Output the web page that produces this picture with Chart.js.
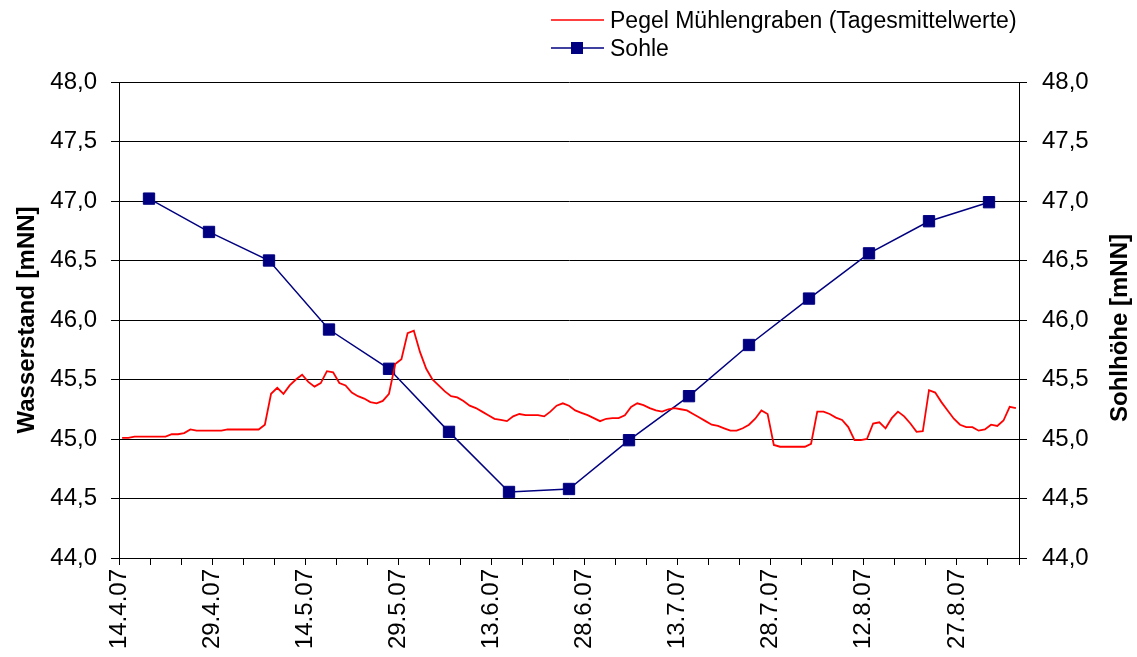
<!DOCTYPE html>
<html>
<head>
<meta charset="utf-8">
<script src="https://cdn.jsdelivr.net/npm/chart.js@4.4.0/dist/chart.umd.min.js"></script>
<style>
  html, body { margin: 0; padding: 0; background: #ffffff; }
  #wrap { width: 1137px; height: 657px; position: relative; }
</style>
</head>
<body>
<div id="wrap"><canvas id="c" width="1137" height="657"></canvas></div>
<script>
// ---- Data ----
const startDate = '14.4.07';
const tickLabels = ['14.4.07', '29.4.07', '14.5.07', '29.5.07', '13.6.07', '28.6.07', '13.7.07', '28.7.07', '12.8.07', '27.8.07'];
const pegelLabel = 'Pegel Mühlengraben (Tagesmittelwerte)';
const sohleLabel = 'Sohle';
// daily mean water level, one value per day starting 14.4.07
const pegelValues = [
  45.01, 45.01, 45.02, 45.02, 45.02, 45.02, 45.02, 45.02, 45.04, 45.04,
  45.05, 45.08, 45.07, 45.07, 45.07, 45.07, 45.07, 45.08, 45.08, 45.08,
  45.08, 45.08, 45.08, 45.12, 45.38, 45.43, 45.38, 45.45, 45.50, 45.54,
  45.48, 45.44, 45.47, 45.57, 45.56, 45.47, 45.45, 45.39, 45.36, 45.34,
  45.31, 45.30, 45.32, 45.38, 45.63, 45.67, 45.89, 45.91, 45.73, 45.59,
  45.50, 45.45, 45.40, 45.36, 45.35, 45.32, 45.28, 45.26, 45.23, 45.20,
  45.17, 45.16, 45.15, 45.19, 45.21, 45.20, 45.20, 45.20, 45.19, 45.23,
  45.28, 45.30, 45.28, 45.24, 45.22, 45.20, 45.175, 45.15, 45.17, 45.175,
  45.175, 45.20, 45.27, 45.30, 45.285, 45.26, 45.24, 45.23, 45.25, 45.26,
  45.25, 45.24, 45.21, 45.18, 45.15, 45.12, 45.11, 45.09, 45.07, 45.07,
  45.09, 45.12, 45.17, 45.24, 45.21, 44.95, 44.935, 44.935, 44.935, 44.935,
  44.935, 44.96, 45.23, 45.23, 45.21, 45.18, 45.16, 45.10, 44.99, 44.99,
  45.00, 45.13, 45.14, 45.09, 45.175, 45.23, 45.19, 45.13, 45.06, 45.065,
  45.41, 45.39, 45.31, 45.24, 45.17, 45.12, 45.10, 45.10, 45.07, 45.08,
  45.12, 45.11, 45.155, 45.27, 45.26
];
// bed level points (secondary category axis, 15 categories)
const sohleValues = [47.02, 46.74, 46.50, 45.92, 45.59, 45.06, 44.555, 44.58, 44.99, 45.36, 45.79, 46.18, 46.56, 46.83, 46.99];

const yMin = 44, yMax = 48, yStep = 0.5;
const daysShown = 145;   // axis length in days
const labelEvery = 15;   // a date label every 15 days
const tickEvery = 5;     // a tick mark every 5 days

const FONT = "'Liberation Sans', Arial, sans-serif";
const RED = '#FF0000';
const NAVY = '#000080';

const fmt = v => v.toFixed(1).replace('.', ',');

const legendPlugin = {
  id: 'customLegend',
  afterDraw(chart) {
    const ctx = chart.ctx;
    ctx.save();
    ctx.font = '23px ' + FONT;
    ctx.fillStyle = '#000';
    ctx.textBaseline = 'alphabetic';
    ctx.textAlign = 'left';
    // row 1
    ctx.strokeStyle = RED; ctx.lineWidth = 1.5;
    ctx.beginPath(); ctx.moveTo(551, 20); ctx.lineTo(604, 20); ctx.stroke();
    ctx.fillText(pegelLabel, 610, 28);
    // row 2
    ctx.strokeStyle = NAVY; ctx.lineWidth = 1.5;
    ctx.beginPath(); ctx.moveTo(551, 48); ctx.lineTo(604, 48); ctx.stroke();
    ctx.fillStyle = NAVY; ctx.fillRect(571, 42, 12, 12);
    ctx.fillStyle = '#000';
    ctx.fillText(sohleLabel, 610, 56);
    // right axis title (reads bottom to top)
    ctx.font = 'bold 24px ' + FONT;
    ctx.textAlign = 'center';
    ctx.textBaseline = 'middle';
    ctx.translate(1120, 328);
    ctx.rotate(-Math.PI / 2);
    ctx.fillText('Sohlhöhe [mNN]', 0, 0);
    ctx.restore();
  }
};

new Chart(document.getElementById('c'), {
  type: 'line',
  data: {
    datasets: [
      {
        label: pegelLabel,
        data: pegelValues.map((v, i) => ({ x: i + 0.5, y: v })),
        xAxisID: 'x', yAxisID: 'y',
        borderColor: RED, borderWidth: 1.8,
        pointRadius: 0, tension: 0, fill: false
      },
      {
        label: sohleLabel,
        data: sohleValues.map((v, i) => ({ x: i + 0.5, y: v })),
        xAxisID: 'x2', yAxisID: 'y2',
        borderColor: NAVY, borderWidth: 1.5,
        pointStyle: 'rect', pointRadius: 8, pointBorderWidth: 1,
        pointBackgroundColor: NAVY, pointBorderColor: NAVY,
        tension: 0, fill: false
      }
    ]
  },
  options: {
    responsive: false,
    animation: false,
    devicePixelRatio: 1,
    layout: { padding: { top: 82, left: 0, right: 0, bottom: 0 } },
    plugins: { legend: { display: false }, tooltip: { enabled: false } },
    scales: {
      x: {
        type: 'linear', position: 'bottom', min: 0, max: daysShown,
        grid: { drawOnChartArea: false, drawTicks: true, tickLength: 7, color: '#000', lineWidth: 1 },
        border: { display: true, color: '#000', width: 1 },
        ticks: {
          stepSize: tickEvery, autoSkip: false, maxRotation: 90, minRotation: 90,
          color: '#000', font: { family: FONT, size: 24 }, padding: 4,
          callback: v => (v % labelEvery === 0 && v / labelEvery < tickLabels.length) ? tickLabels[v / labelEvery] : ''
        },
        afterFit: s => { s.height = 99; }
      },
      x2: { type: 'linear', min: 0, max: sohleValues.length, display: false },
      y: {
        position: 'left', min: yMin, max: yMax,
        grid: { color: '#000', lineWidth: 1, tickLength: 8 },
        border: { display: true, color: '#000', width: 1 },
        ticks: { stepSize: yStep, color: '#000', font: { family: FONT, size: 24 }, padding: 14, callback: fmt },
        title: { display: true, text: 'Wasserstand [mNN]', color: '#000', font: { family: FONT, size: 24, weight: 'bold' }, padding: { top: 13, bottom: 0 } },
        afterFit: s => { s.width = 119; }
      },
      y2: {
        position: 'right', min: yMin, max: yMax,
        grid: { drawOnChartArea: false, color: '#000', lineWidth: 1, tickLength: 8 },
        border: { display: true, color: '#000', width: 1 },
        ticks: { stepSize: yStep, color: '#000', font: { family: FONT, size: 24 }, padding: 15, callback: fmt },
        afterFit: s => { s.width = 118; }
      }
    }
  },
  plugins: [legendPlugin]
});
</script>
</body>
</html>
